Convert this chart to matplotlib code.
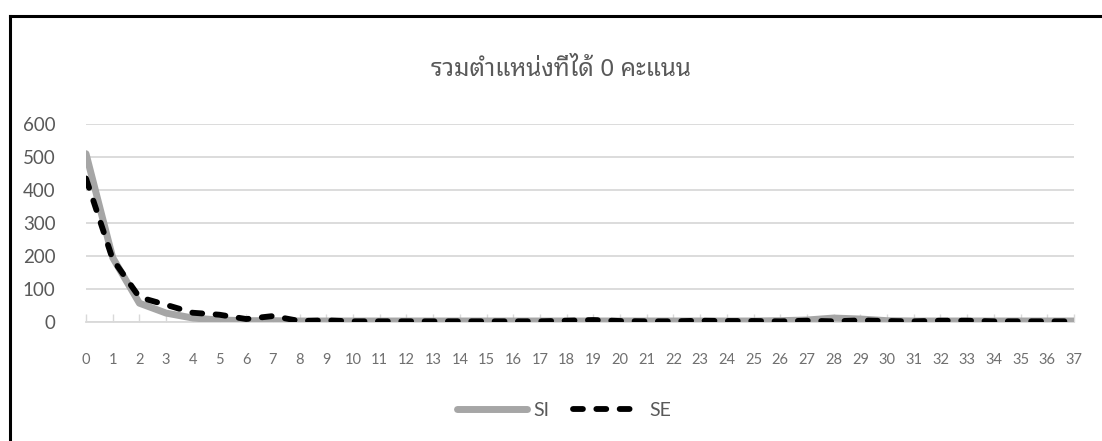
import matplotlib
matplotlib.use("Agg")
import matplotlib.pyplot as plt
from matplotlib import font_manager
from matplotlib.ft2font import FT2Font
from matplotlib.lines import Line2D

# Counts of positions scoring 0, per position index
categories = list(range(38))
si_values = [510, 195, 57, 27, 12, 6, 4, 4, 3, 3,
             3, 3, 3, 3, 3, 3, 3, 3, 3, 3,
             3, 3, 3, 3, 3, 3, 4, 6, 12, 9,
             4, 3, 3, 3, 3, 3, 3, 3]
se_values = [435, 190, 75, 52, 28, 22, 9, 18, 3, 5,
             2, 2, 2, 2, 2, 2, 2, 2, 4, 6,
             3, 2, 2, 4, 3, 3, 2, 4, 2, 5,
             3, 2, 4, 4, 2, 2, 2, 2]
y_ticks = [0, 100, 200, 300, 400, 500, 600]
title_text = "รวมตำแหน่งที่ได้ 0 คะแนน"
series_names = ["SI", "SE"]


def thai_family():
    preferred = ["Noto Sans Thai Looped", "Noto Sans Thai", "Noto Serif Thai",
                 "Loma", "Garuda", "Kinnari", "Norasi",
                 "Waree", "Umpush", "Tlwg Typo", "Sawasdee"]
    names = {f.name for f in font_manager.fontManager.ttflist}
    for p in preferred:
        if p in names:
            return p
    for f in font_manager.fontManager.ttflist:
        try:
            if 0x0E23 in FT2Font(f.fname).get_charmap():
                return f.name
        except Exception:
            continue
    return "DejaVu Sans"


THAI = thai_family()
TEXT = "#595959"
GRID = "#d9d9d9"

fig = plt.figure(figsize=(11.02, 4.41), dpi=100)
W, H = 1102, 441
ax = fig.add_axes([86 / W, (H - 322) / H, (1074 - 86) / W, (322 - 124) / H])

ax.plot(categories, si_values, color="#a6a6a6", lw=5.0,
        solid_capstyle="round", solid_joinstyle="round", label=series_names[0], zorder=3)
ax.plot(categories, se_values, color="black", lw=4.2, dashes=(1.7, 2.3),
        dash_capstyle="round", dash_joinstyle="round", label=series_names[1], zorder=4)

ax.set_xlim(0, 37)
ax.set_ylim(0, 600)
ax.set_yticks(y_ticks)
ax.set_yticklabels([str(v) for v in y_ticks], fontsize=13.5, color=TEXT, family="Lato")
ax.set_xticks(categories)
ax.set_xticklabels([str(c) for c in categories], fontsize=10.5, color="#6f6f6f",
                   family="Lato")
ax.tick_params(axis="y", length=0, pad=22)
ax.tick_params(axis="x", direction="in", length=6, width=1, color=GRID, pad=22)
ax.grid(axis="y", color=GRID, lw=1.3)
ax.set_axisbelow(True)
for s in ["top", "right", "left"]:
    ax.spines[s].set_visible(False)
ax.spines["bottom"].set_color(GRID)
ax.spines["bottom"].set_linewidth(1.3)
ax.set_facecolor("none")

fig.text(561 / W, 1 - 70 / H, title_text, ha="center", va="center",
         fontsize=17.5, color=TEXT, family=[THAI, "DejaVu Sans"])

leg = fig.legend(loc="center", bbox_to_anchor=(564 / W, 1 - 410 / H), ncol=2,
                 frameon=False, handlelength=3.6, columnspacing=1.2,
                 handletextpad=0.35, prop={"family": "Lato", "size": 14})
for t in leg.get_texts():
    t.set_color(TEXT)

# Frame around the chart area
fig.add_artist(Line2D([10 / W, 10 / W], [0, 1 - 16 / H], color="black", lw=2.2,
                      transform=fig.transFigure, solid_capstyle="projecting"))
fig.add_artist(Line2D([10 / W, 1], [1 - 16 / H, 1 - 16 / H], color="black", lw=2.2,
                      transform=fig.transFigure, solid_capstyle="projecting"))

fig.savefig("out.png", dpi=100, facecolor="white")
